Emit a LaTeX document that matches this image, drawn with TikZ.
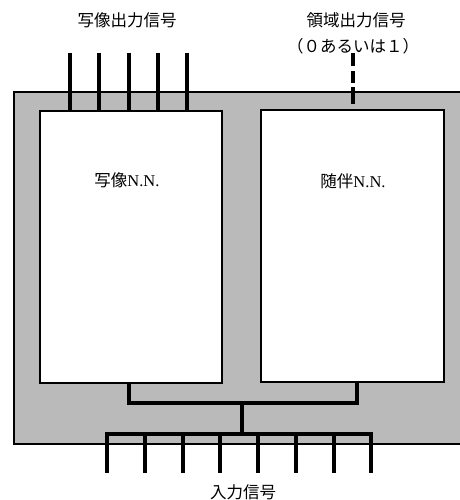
\documentclass[tikz,border=0pt]{standalone}
\usepackage{fontspec}
\setmainfont{Liberation Serif}
\newfontfamily\jp{Noto Sans CJK JP}
\begin{document}
\begin{tikzpicture}[x=1pt,y=-1pt,
  nnbox/.style={draw=black,line width=2.2pt,fill=white,minimum width=182pt,minimum height=272pt,inner sep=0pt,anchor=north west},
  wire/.style={line width=3.4pt,line cap=butt},
  lbl/.style={font=\jp\fontsize{16.5}{18}\selectfont,inner sep=0pt}]
\useasboundingbox (0,0) rectangle (459,500);
% outer housing
\path[fill=black!27,draw=black,line width=1.2pt] (14,92) rectangle (470,444);
\draw[line width=2pt] (14,92) -- (470,92);
\draw[line width=2pt] (14,444) -- (470,444);
% boxes
\node[nnbox] (map) at (39,110) {};
\node[nnbox,minimum width=183pt] (adj) at (260,109) {};
\node[inner sep=0pt,font=\fontsize{16.5}{18}\selectfont] (mapt) at (127,180) {{\jp 写像}N.N.};
\node[inner sep=0pt,font=\fontsize{16.5}{18}\selectfont] (adjt) at (353,181) {{\jp 随伴}N.N.};
% labels
\node[lbl] (outl) at (127,20) {写像出力信号};
\node[lbl] (regl) at (356,20) {領域出力信号};
\node[lbl] (regl2) at (353,46) {（０あるいは１）};
\node[lbl] (inl) at (243,492) {入力信号};
% map outputs
\foreach \x [count=\i] in {70,99,129,158,187}{
  \coordinate (o\i) at (\x,53);
  \draw[wire] (o\i) -- (o\i |- map.north);
}
% region output (dashed)
\coordinate (r0) at (353,53);
\coordinate (r1) at (353,104);
\draw[wire,dash pattern=on 13pt off 5pt on 12pt off 4pt on 17pt off 2pt] (r0) -- (r1);
% merge from boxes
\coordinate (jl) at (129,403);
\coordinate (jr) at (357,403);
\coordinate (jm) at (242,403);
\coordinate (bus) at (242,434);
\draw[wire,line cap=rect] (jl |- map.south) -- (jl) -- (jr) -- (jr |- adj.south);
\draw[wire] (jm) -- (bus);
\draw[wire,line cap=rect] (107,434) -- (371,434);
\foreach \x [count=\i] in {107,145,183,220,258,296,334,371}{
  \coordinate (i\i) at (\x,473);
  \draw[wire] (\x,434) -- (i\i);
}
\end{tikzpicture}
\end{document}
